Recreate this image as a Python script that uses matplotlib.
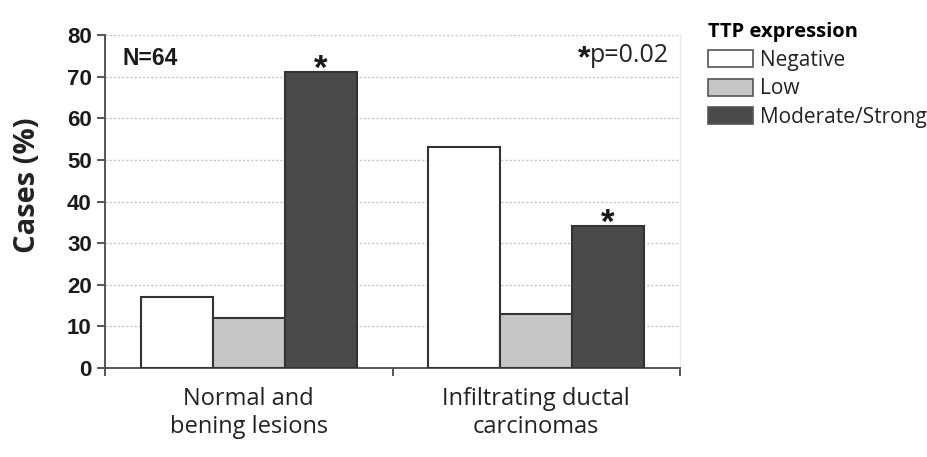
import matplotlib
matplotlib.use("Agg")
import matplotlib.pyplot as plt
import numpy as np
from matplotlib.patches import Patch

categories = ["Normal and\nbening lesions", "Infiltrating ductal\ncarcinomas"]
series_names = ["Negative", "Low", "Moderate/Strong"]
negative = [17, 53]
low = [12, 13]
moderate_strong = [71, 34]
y_ticks = [0, 10, 20, 30, 40, 50, 60, 70, 80]

colors = ["#ffffff", "#c6c6c6", "#4a4a4a"]
edge = "#333333"

fig = plt.figure(figsize=(9.27, 4.57), dpi=100)
ax = fig.add_axes([0.1133, 0.1947, 0.6203, 0.7287])

x = np.arange(len(categories))
w = 0.25
values = [negative, low, moderate_strong]
for i, (vals, c, name) in enumerate(zip(values, colors, series_names)):
    ax.bar(x + (i - 1) * w, vals, width=w, color=c, edgecolor=edge,
           linewidth=1.5, label=name, zorder=3)

ax.set_xlim(-0.5, 1.5)
ax.set_ylim(0, 80)
ax.set_yticks(y_ticks)
ax.set_yticklabels([str(t) for t in y_ticks], fontfamily="Liberation Sans",
                   fontweight="bold", fontsize=16, color="#1a1a1a")
ax.yaxis.grid(True, linestyle=(0, (1.5, 1.5)), color="#c4c4c4", linewidth=1.0, zorder=0)

# category boundary ticks on x axis, labels centred on groups
ax.set_xticks([-0.5, 0.5, 1.5])
ax.set_xticklabels([])
ax.set_xticks(x, minor=True)
ax.set_xticklabels(categories, minor=True, fontfamily="Open Sans", fontsize=17,
                   color="#222222", linespacing=1.22)
ax.tick_params(axis="x", which="minor", length=0, pad=14)
ax.tick_params(axis="x", which="major", length=6, width=1.4, color="#555555", direction="out")
ax.tick_params(axis="y", length=6, width=1.4, color="#555555", direction="out", pad=3.5)

ax.spines["top"].set_visible(False)
ax.spines["right"].set_color("#e8e8e8")
ax.spines["right"].set_linewidth(1.0)
for s in ["left", "bottom"]:
    ax.spines[s].set_linewidth(1.4)
    ax.spines[s].set_color("#555555")

ax.set_ylabel("Cases (%)", fontfamily="Open Sans", fontweight="bold", fontsize=21,
              color="#222222")
ax.yaxis.set_label_coords(-0.11, 0.55)

ax.text(0.031, 0.911, "N=64", transform=ax.transAxes, fontfamily="Liberation Sans",
        fontweight="bold", fontsize=16.5, va="baseline", ha="left", color="#1a1a1a")
ax.text(0.844, 0.904, "*", transform=ax.transAxes, fontfamily="Liberation Sans",
        fontweight="bold", fontsize=23, va="baseline", ha="right", color="#1a1a1a")
ax.text(0.843, 0.919, "p=0.02", transform=ax.transAxes, fontfamily="Open Sans",
        fontsize=18, va="baseline", ha="left", color="#222222")

# significance markers above the Moderate/Strong bars
for xi, v in zip(x + w, moderate_strong):
    ax.text(xi, v - 1.5, "*", ha="center", va="baseline", fontfamily="Liberation Sans",
            fontweight="bold", fontsize=25, color="#1a1a1a")

handles = [Patch(facecolor=c, edgecolor="#555555", linewidth=1.2) for c in colors]
leg = fig.legend(handles, series_names, loc="upper left", bbox_to_anchor=(0.764, 0.952),
                 frameon=False, title="TTP expression", alignment="left",
                 prop={"family": "Open Sans", "size": 15},
                 title_fontproperties={"family": "Open Sans", "weight": "bold", "size": 14.5},
                 handlelength=2.16, handleheight=0.87, handletextpad=0.34, labelspacing=0.37,
                 borderaxespad=0, borderpad=0)
for t in leg.get_texts():
    t.set_color("#222222")

fig.savefig("out.png", dpi=100)
